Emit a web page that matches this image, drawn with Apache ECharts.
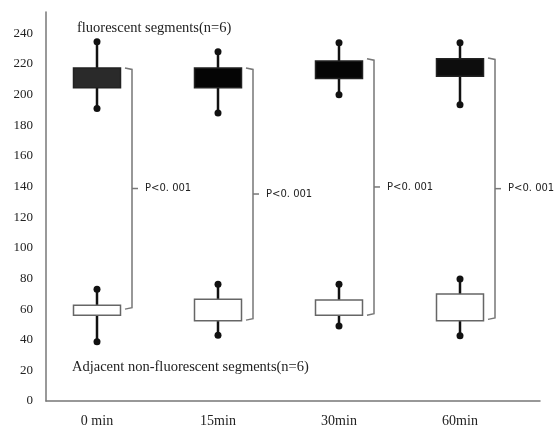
<!DOCTYPE html>
<html>
<head>
<meta charset="utf-8">
<script src="https://cdn.jsdelivr.net/npm/echarts@6/dist/echarts.min.js"></script>
<style>html,body{margin:0;padding:0;background:#fff}#c{width:558px;height:428px}</style>
</head>
<body>
<div id="c"></div>
<script>
// ---- data ----
const categories = ['0 min', '15min', '30min', '60min'];
// [min, Q1, Q3, max]
const fluorMin = [191, 188, 200, 193.5];
const fluorQ1  = [204.5, 204.5, 210.5, 212];
const fluorQ3  = [217.5, 217.5, 222, 223.5];
const fluorMax = [234.5, 228, 234, 234];
const adjMin = [38.7, 42.9, 49, 42.6];
const adjQ1  = [56, 52.4, 56, 52.4];
const adjQ3  = [62.5, 66.5, 66, 69.8];
const adjMax = [73, 76.3, 76.3, 79.6];
// significance brackets
const bracketTop = [217.5, 217.5, 223.5, 224];
const bracketBottom = [60, 52.8, 56, 53.3];
const pLabel = 'P<0. 001';
const yTicks = { min: 0, max: 254, interval: 20 };
const titleFluor = 'fluorescent segments(n=6)';
const titleAdj = 'Adjacent non-fluorescent segments(n=6)';
const fluorFills = ['#2a2a2a', '#050505', '#050505', '#0d0d0d'];

const serif = '"Liberation Serif", "DejaVu Serif", serif';
const fluorData = categories.map((c, i) => [i, fluorMin[i], fluorQ1[i], fluorQ3[i], fluorMax[i]]);
const adjData = categories.map((c, i) => [i, adjMin[i], adjQ1[i], adjQ3[i], adjMax[i]]);
const bracketData = categories.map((c, i) => [i, bracketTop[i], bracketBottom[i]]);

function boxRenderer(fills, strokeColor) {
  return function (params, api) {
    const i = api.value(0);
    const x = api.coord([i, 0])[0];
    const yMin = api.coord([i, api.value(1)])[1];
    const yQ1 = api.coord([i, api.value(2)])[1];
    const yQ3 = api.coord([i, api.value(3)])[1];
    const yMax = api.coord([i, api.value(4)])[1];
    const w = 47;
    const wl = { stroke: '#111', lineWidth: 2.5 };
    return {
      type: 'group',
      children: [
        { type: 'line', shape: { x1: x, y1: yMax, x2: x, y2: yQ3 }, style: wl },
        { type: 'line', shape: { x1: x, y1: yQ1, x2: x, y2: yMin }, style: wl },
        { type: 'rect', shape: { x: x - w / 2, y: yQ3, width: w, height: yQ1 - yQ3 },
          style: { fill: fills[params.dataIndex], stroke: strokeColor, lineWidth: 1.5 } },
        { type: 'circle', shape: { cx: x, cy: yMax, r: 3.5 }, style: { fill: '#111' } },
        { type: 'circle', shape: { cx: x, cy: yMin, r: 3.5 }, style: { fill: '#111' } }
      ]
    };
  };
}

function bracketRenderer(params, api) {
  const i = api.value(0);
  const x = api.coord([i, 0])[0];
  const yT = api.coord([i, api.value(1)])[1];
  const yB = api.coord([i, api.value(2)])[1];
  const vx = x + 35;
  const ym = (yT + yB) / 2;
  const ls = { stroke: '#777', lineWidth: 1.5, fill: null };
  return {
    type: 'group',
    children: [
      { type: 'polyline', shape: { points: [[vx - 7, yT], [vx, yT + 1.5], [vx, yB - 1.5], [vx - 7, yB]] }, style: ls },
      { type: 'line', shape: { x1: vx, y1: ym, x2: vx + 6, y2: ym }, style: ls },
      { type: 'text', style: { text: pLabel, x: vx + 13, y: ym, textVerticalAlign: 'middle', verticalAlign: 'middle',
        font: '10px "DejaVu Sans", sans-serif', fill: '#222' } }
    ]
  };
}

const chart = echarts.init(document.getElementById('c'), null, { renderer: 'canvas' });
chart.setOption({
  animation: false,
  backgroundColor: '#fff',
  title: [
    { text: titleFluor, left: 72, top: 16, textStyle: { fontFamily: serif, fontSize: 14.5, fontWeight: 'normal', color: '#222' } },
    { text: titleAdj, left: 67, top: 355, textStyle: { fontFamily: serif, fontSize: 14.5, fontWeight: 'normal', color: '#222' } }
  ],
  grid: [
    { left: 46, top: 12, width: 494, bottom: 27 },
    { left: 36.5, top: 12, width: 484, bottom: 27 }
  ],
  xAxis: [
    { type: 'value', gridIndex: 0, min: 0, max: 1,
      axisLine: { show: true, lineStyle: { color: '#777', width: 1.5 } },
      axisTick: { show: false }, axisLabel: { show: false }, splitLine: { show: false } },
    { type: 'category', gridIndex: 1, data: categories,
      axisLine: { show: false }, axisTick: { show: false }, splitLine: { show: false },
      axisLabel: { margin: 13, fontFamily: serif, fontSize: 14, color: '#222' } }
  ],
  yAxis: [
    { type: 'value', gridIndex: 0, min: yTicks.min, max: yTicks.max, interval: yTicks.interval,
      axisLine: { show: true, lineStyle: { color: '#777', width: 1.5 } },
      axisTick: { show: false }, splitLine: { show: false },
      axisLabel: { margin: 13, fontFamily: serif, fontSize: 13, color: '#222', showMaxLabel: false,
        formatter: v => (v % 20 === 0 ? String(v) : '') } },
    { type: 'value', gridIndex: 1, min: yTicks.min, max: yTicks.max, show: false }
  ],
  series: [
    { type: 'custom', xAxisIndex: 1, yAxisIndex: 1, data: fluorData, renderItem: boxRenderer(fluorFills, '#222'), z: 3 },
    { type: 'custom', xAxisIndex: 1, yAxisIndex: 1, data: adjData, renderItem: boxRenderer(['#fff', '#fff', '#fff', '#fff'], '#666'), z: 3 },
    { type: 'custom', xAxisIndex: 1, yAxisIndex: 1, data: bracketData, renderItem: bracketRenderer, z: 2 }
  ]
});
</script>
</body>
</html>
